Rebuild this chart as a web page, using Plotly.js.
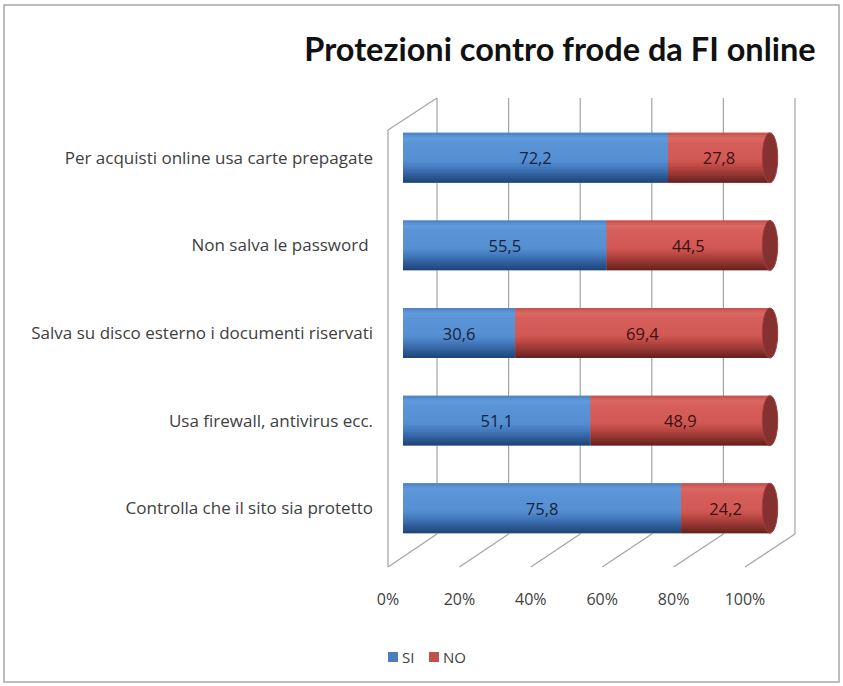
<!DOCTYPE html>
<html>
<head>
<meta charset="utf-8">
<script src="https://cdn.plot.ly/plotly-3.0.1.min.js"></script>
<style>html,body{margin:0;padding:0;background:#fff;}#chart{width:843px;height:686px;}</style>
</head>
<body>
<div id="chart"></div>
<script>
// ---- data ----
const categories = [
  "Controlla che il sito sia protetto",
  "Usa firewall, antivirus ecc.",
  "Salva su disco esterno i documenti riservati",
  "Non salva le password ",
  "Per acquisti online usa carte prepagate"
];
const siValues = [75.8, 51.1, 30.6, 55.5, 72.2];
const noValues = [24.2, 48.9, 69.4, 44.5, 27.8];
const tickValues = [0, 20, 40, 60, 80, 100];
const tickLabels = ["0%", "20%", "40%", "60%", "80%", "100%"];
const seriesNames = ["SI", "NO"];

// ---- helpers (layout / styling only) ----
const W = 843, H = 686;
const px = v => v / W;
const py = v => 1 - v / H;
const fmt = v => v.toFixed(1).replace('.', ',');

const XMAX = 104;                          // room for the cylinder end caps
const bar0 = 403, bar100 = 770;            // pixel span of 0..100 on the bar axis
const barDom = [bar0, bar0 + (bar100 - bar0) * XMAX / 100];
const frontDom = [388, 745];               // front floor (tick labels)
const backDom = [437, 795];                // back wall gridlines
const backTop = 98, backBottom = 534, frontBottom = 567;
const xOn = (dom, v) => (dom[0] + (dom[1] - dom[0]) * v / 100) / W;

const BW = 0.57;                           // bar thickness in category units
const grid = {color:'#a3a3a3', width:1.2};
const legendColors = ['#4a7ebf', '#c0504d'];

const shapes = [];
shapes.push({type:'rect', xref:'paper', yref:'paper', x0:px(4), x1:px(839), y0:py(682), y1:py(5),
  line:{color:'#a6a6a6', width:1.5}, layer:'below'});
tickValues.forEach(v => {
  const xb = xOn(backDom, v), xf = xOn(frontDom, v);
  shapes.push({type:'line', xref:'paper', yref:'paper', x0:xb, x1:xb, y0:py(backBottom), y1:py(backTop), line:grid, layer:'below'});
  shapes.push({type:'line', xref:'paper', yref:'paper', x0:xb, x1:xf, y0:py(backBottom), y1:py(frontBottom), line:grid, layer:'below'});
});
shapes.push({type:'line', xref:'paper', yref:'paper', x0:xOn(frontDom,0), x1:xOn(frontDom,0), y0:py(frontBottom), y1:py(130), line:grid, layer:'below'});
shapes.push({type:'line', xref:'paper', yref:'paper', x0:xOn(frontDom,0), x1:xOn(backDom,0), y0:py(130), y1:py(backTop), line:grid, layer:'below'});

// cylinder end caps
categories.forEach((c, i) => {
  const end = siValues[i] + noValues[i];
  shapes.push({type:'circle', xref:'x', yref:'y', x0:end - 2.1, x1:end + 2.1, y0:i - BW/2, y1:i + BW/2,
    fillcolor:'#84312f', line:{color:'#a03f3c', width:1}, layer:'above'});
});

// legend swatches (drawn as a compact legend under the chart)
[[388, 398], [429, 439]].forEach((r, s) => {
  shapes.push({type:'rect', xref:'paper', yref:'paper', x0:px(r[0]), x1:px(r[1]), y0:py(662), y1:py(652),
    fillcolor:legendColors[s], line:{width:0}});
});

// shading gradient (bottom -> top) for the cylinders
const stops = [
  [0.00, [31, 67, 116], [98, 32, 30]],
  [0.12, [44, 88, 147], [135, 48, 45]],
  [0.30, [68, 121, 189], [182, 69, 65]],
  [0.45, [86, 144, 211], [210, 89, 85]],
  [0.78, [90, 148, 215], [214, 94, 90]],
  [0.90, [98, 155, 220], [220, 104, 100]],
  [1.00, [74, 128, 194], [194, 78, 74]]
];
function colAt(f, s) {
  for (let k = 1; k < stops.length; k++) {
    if (f <= stops[k][0]) {
      const a = stops[k-1], b = stops[k], t = (f - a[0]) / (b[0] - a[0]);
      const c = a[1+s].map((v, j) => Math.round(v + (b[1+s][j] - v) * t));
      return 'rgb(' + c.join(',') + ')';
    }
  }
  return 'rgb(' + stops[stops.length-1][1+s].join(',') + ')';
}
const NB = 22;
const seriesVals = [siValues, noValues];
const seriesBase = [categories.map(() => 0), siValues];

const traces = [];
seriesVals.forEach((vals, s) => {
  traces.push({type:'bar', orientation:'h', name:seriesNames[s], y:categories, x:vals, base:seriesBase[s],
    width:BW, marker:{color:colAt(0.6, s), line:{width:0}}, hoverinfo:'skip', showlegend:false});
  for (let k = 0; k < NB; k++) {
    const f0 = k / NB, f1 = Math.min(1, (k + 1.6) / NB);
    traces.push({type:'bar', orientation:'h', name:seriesNames[s], y:categories, x:vals, base:seriesBase[s],
      width:BW * (f1 - f0), offset:-BW/2 + BW * f0,
      marker:{color:colAt((k + 0.5) / NB, s), line:{width:0}}, showlegend:false, hoverinfo:'skip'});
  }
});
// value labels on top
const textColors = ['#17233d', '#3a1110'];
seriesVals.forEach((vals, s) => {
  traces.push({type:'bar', orientation:'h', name:seriesNames[s], y:categories, x:vals, base:seriesBase[s],
    width:BW, text:vals.map(fmt), textposition:'inside', insidetextanchor:'middle', constraintext:'none',
    textfont:{family:'"Open Sans", sans-serif', size:16.5, color:textColors[s]},
    marker:{color:'rgba(0,0,0,0)', line:{width:0}}, showlegend:false, hoverinfo:'x+y'});
});
// carrier for the tick-label axis
traces.push({type:'scatter', x:[tickValues[0], tickValues[tickValues.length-1]], y:[categories[0], categories[0]],
  xaxis:'x2', yaxis:'y', mode:'markers', marker:{opacity:0}, showlegend:false, hoverinfo:'skip'});

const legendFont = {family:'"Open Sans", sans-serif', size:15, color:'#404040'};
const layout = {
  width: W, height: H,
  margin:{l:0, r:0, t:0, b:0},
  paper_bgcolor:'#fff', plot_bgcolor:'rgba(0,0,0,0)',
  barmode:'overlay',
  showlegend:false,
  font:{family:'"Open Sans", sans-serif', color:'#404040'},
  xaxis:{domain:[px(barDom[0]), px(barDom[1])], range:[0, XMAX], showgrid:false, zeroline:false,
    showticklabels:false, showline:false, fixedrange:true},
  xaxis2:{domain:[px(frontDom[0]), px(frontDom[1])], range:[0,100], anchor:'y', showgrid:false, zeroline:false,
    showline:false, tickmode:'array', tickvals:tickValues, ticktext:tickLabels, ticks:'',
    ticklabelstandoff:36, tickfont:{family:'"Open Sans", sans-serif', size:16, color:'#404040'}, fixedrange:true},
  yaxis:{domain:[py(552), py(114)], range:[-0.5, 4.5], type:'category', showgrid:false, zeroline:false,
    showline:false, ticks:'', ticklabelstandoff:29,
    tickfont:{family:'"Open Sans", sans-serif', size:17, color:'#404040'}, fixedrange:true},
  title:{text:'<b>Protezioni contro frode da FI online</b>', x:px(560), xanchor:'center', y:py(50), yanchor:'middle',
    xref:'paper', yref:'paper', font:{family:'Lato, sans-serif', size:32.5, color:'#111'}},
  annotations:[
    {text:seriesNames[0], xref:'paper', yref:'paper', x:px(400), y:py(657), xanchor:'left', yanchor:'middle',
     showarrow:false, font:legendFont},
    {text:seriesNames[1], xref:'paper', yref:'paper', x:px(441), y:py(657), xanchor:'left', yanchor:'middle',
     showarrow:false, font:legendFont}
  ],
  shapes: shapes
};

Plotly.newPlot('chart', traces, layout, {displayModeBar:false, staticPlot:true});
</script>
</body>
</html>
